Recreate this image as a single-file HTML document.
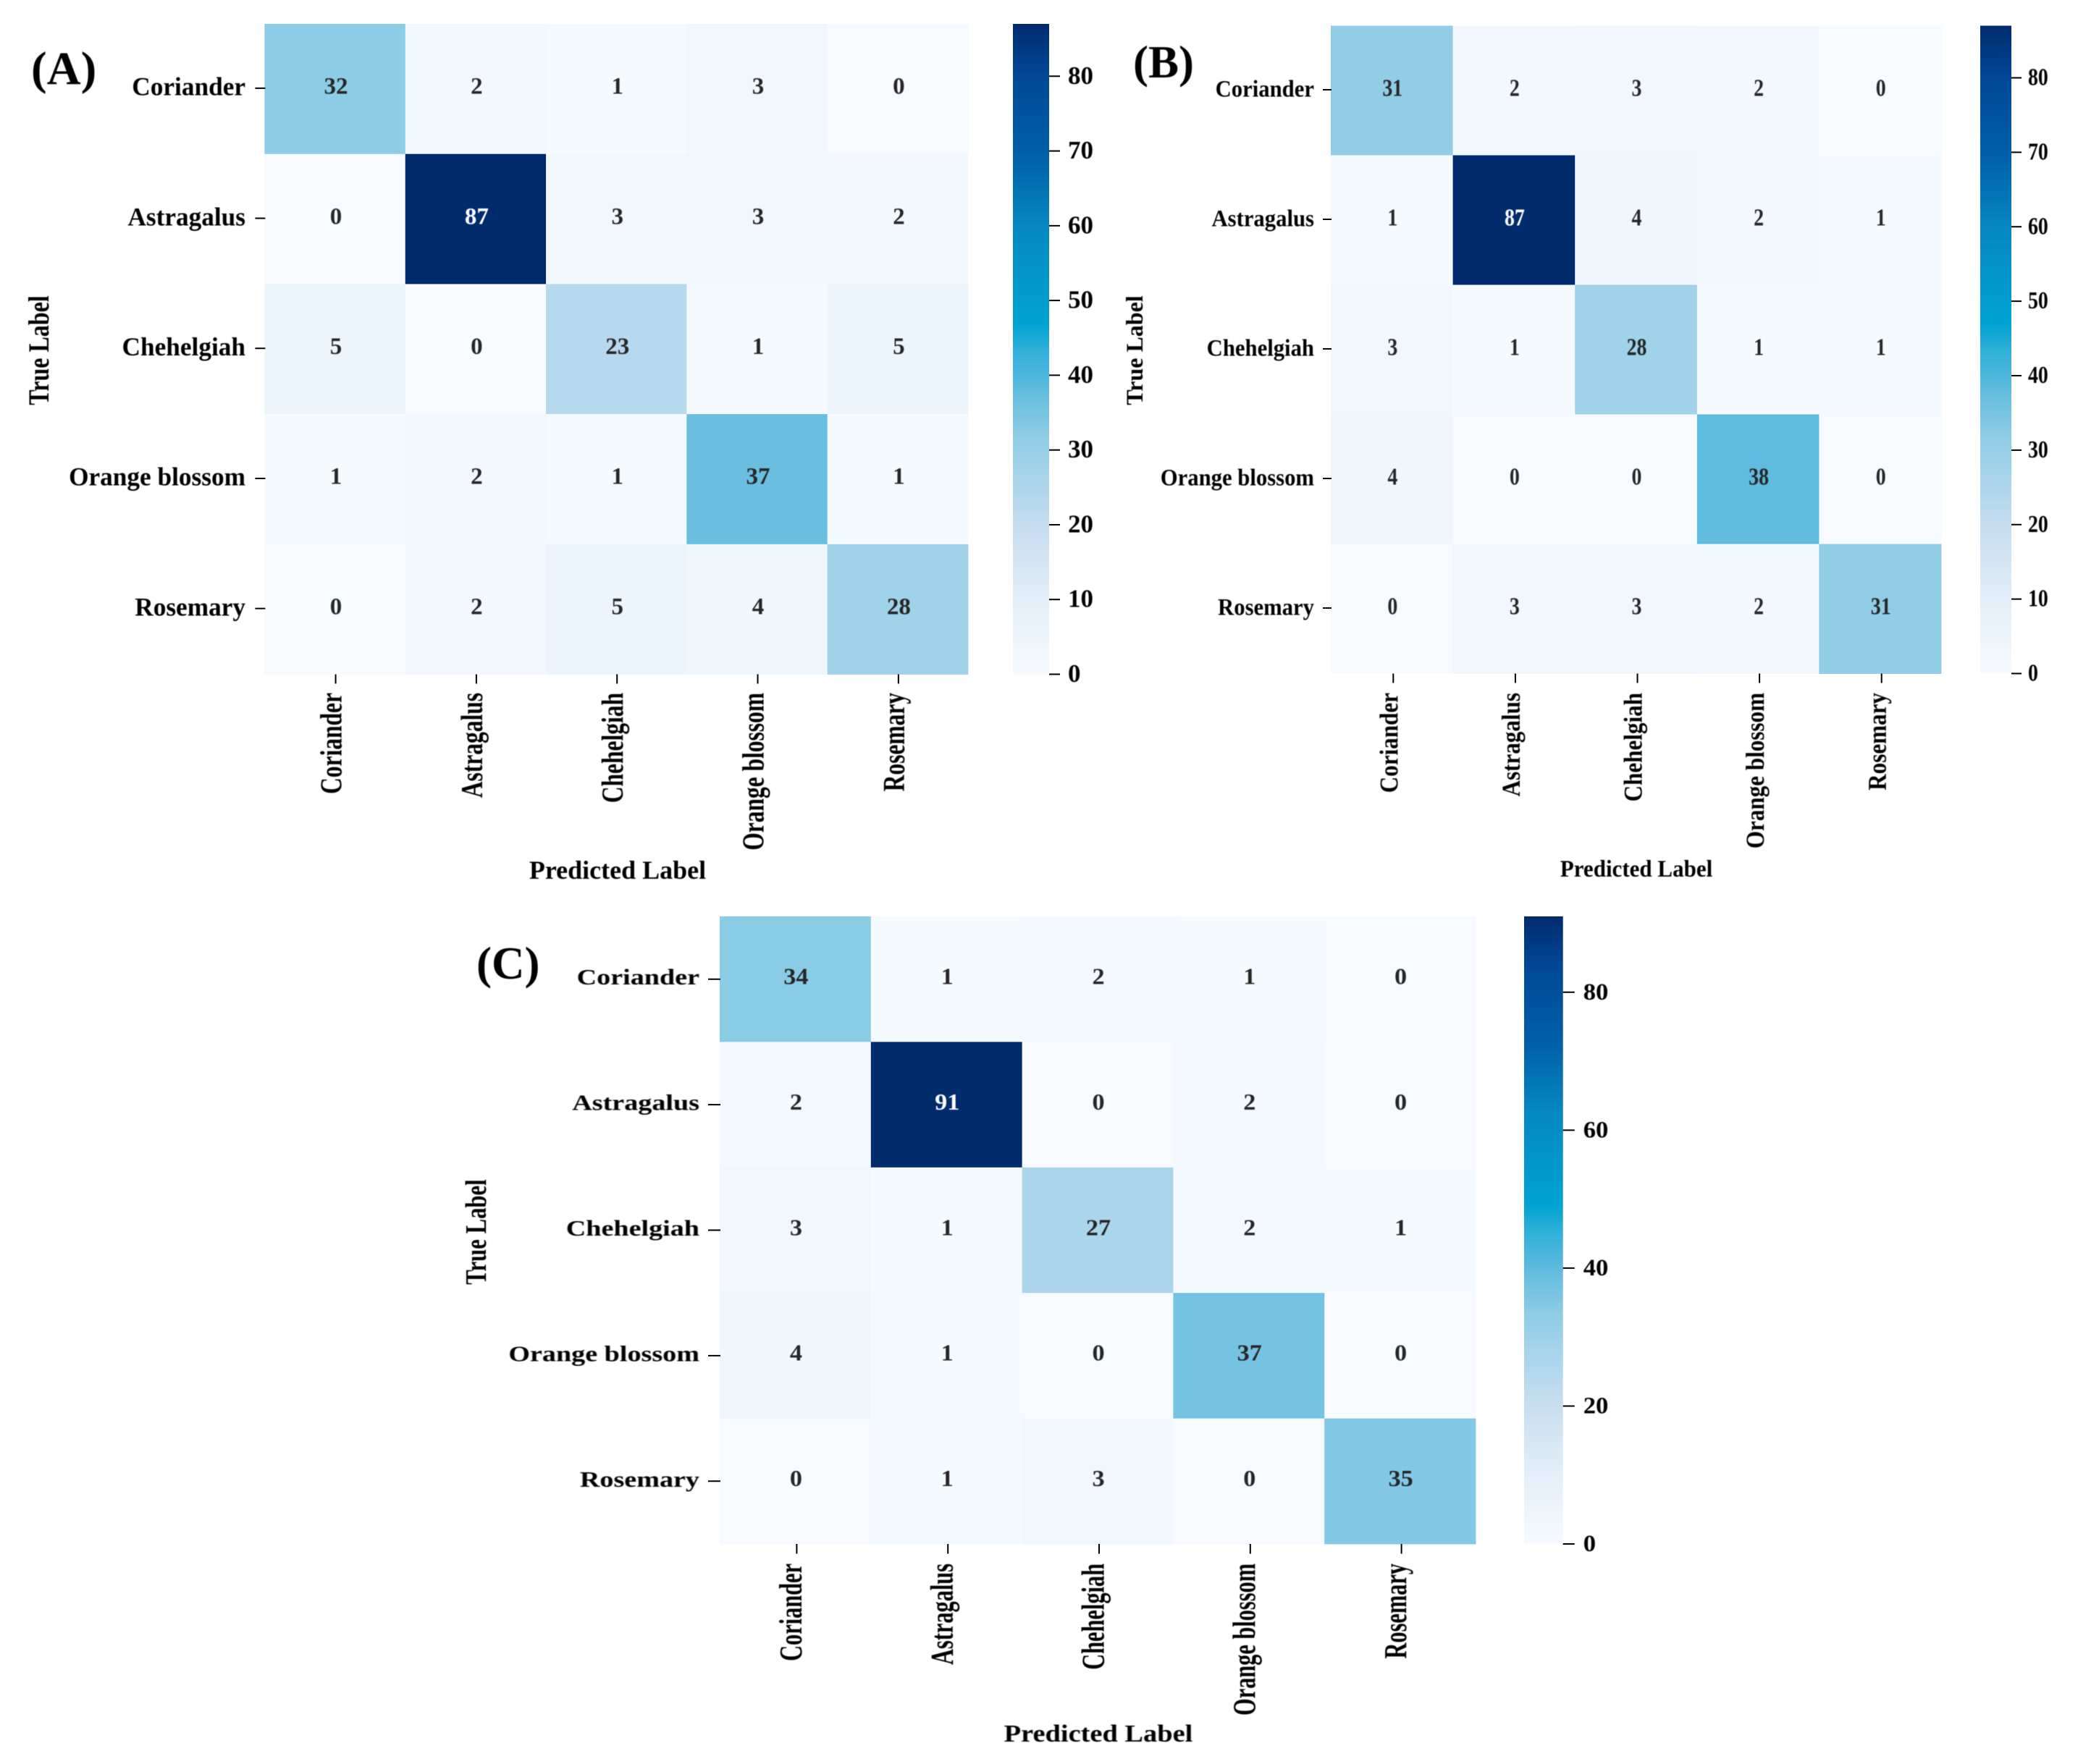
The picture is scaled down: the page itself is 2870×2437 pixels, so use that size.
<!DOCTYPE html>
<html lang="en">
<head>
<meta charset="utf-8">
<title>Confusion matrices A, B and C</title>
<style>
html,body{margin:0;padding:0;background:#fff;}
svg{display:block;}
text{font-family:"Liberation Serif",serif;font-weight:bold;fill:#000;filter:blur(0.6px);}
</style>
</head>
<body>
<svg id="figure" xmlns="http://www.w3.org/2000/svg" width="2870" height="2437" viewBox="0 0 2870 2437">
  <rect x="0" y="0" width="2870" height="2437" fill="#ffffff"/>
  <defs id="gradients"></defs>
  <g id="panel-a">
    <text x="43" y="116" font-size="65">(A)</text>
    <text transform="translate(67 484) rotate(-90) scale(0.8 1)" font-size="40" text-anchor="middle">True Label</text>
    <text x="853" y="1214" font-size="36" text-anchor="middle">Predicted Label</text>
  </g>
  <g id="panel-b">
    <text x="1565" y="107" font-size="63">(B)</text>
    <text transform="translate(1578 484) rotate(-90) scale(0.97 1)" font-size="33" text-anchor="middle">True Label</text>
    <text transform="translate(2260 1211) scale(0.94 1)" font-size="33" text-anchor="middle">Predicted Label</text>
  </g>
  <g id="panel-c">
    <text x="658" y="1352" font-size="63">(C)</text>
    <text transform="translate(671 1702) rotate(-90) scale(0.75 1)" font-size="41" text-anchor="middle">True Label</text>
    <text transform="translate(1517 2406) scale(1.13 1)" font-size="34" text-anchor="middle">Predicted Label</text>
  </g>
</svg>
<script>
// ----- chart data -----
const categories = ["Coriander", "Astragalus", "Chehelgiah", "Orange blossom", "Rosemary"];

const matrixA = [
  [32, 2, 1, 3, 0],
  [0, 87, 3, 3, 2],
  [5, 0, 23, 1, 5],
  [1, 2, 1, 37, 1],
  [0, 2, 5, 4, 28]
];
const matrixB = [
  [31, 2, 3, 2, 0],
  [1, 87, 4, 2, 1],
  [3, 1, 28, 1, 1],
  [4, 0, 0, 38, 0],
  [0, 3, 3, 2, 31]
];
const matrixC = [
  [34, 1, 2, 1, 0],
  [2, 91, 0, 2, 0],
  [3, 1, 27, 2, 1],
  [4, 1, 0, 37, 0],
  [0, 1, 3, 0, 35]
];

const colorbarTicksA = [0, 10, 20, 30, 40, 50, 60, 70, 80];
const colorbarTicksB = [0, 10, 20, 30, 40, 50, 60, 70, 80];
const colorbarTicksC = [0, 20, 40, 60, 80];

// colormap: fraction of the scale maximum, then red, green, blue
const colormapStops = [
  [0, 247, 251, 255],
  [0.115, 226, 238, 248],
  [0.23, 197, 221, 240],
  [0.32, 161, 210, 233],
  [0.368, 141, 204, 229],
  [0.425, 106, 190, 224],
  [0.5, 45, 175, 217],
  [0.54, 0, 163, 209],
  [0.69, 5, 135, 192],
  [0.8, 0, 95, 168],
  [0.92, 0, 72, 150],
  [1, 0, 43, 109]
];

// ----- layout of each panel -----
const panelA = {
  id: "a", matrix: matrixA, ticks: colorbarTicksA,
  x0: 365.4, x1: 1337, y0: 33, y1: 931.5,
  cbX0: 1399, cbX1: 1449, cbTickLen: 15, cbLabelX: 1475, cbFont: 35, cbScale: 1, cbBase: 10.5,
  yFont: 36, yScale: 0.98, yRight: 339, yTickLen: 13, yBase: 8.7, yTickShift: -1,
  annFont: 33, annScale: 1, annBase: 7.7, annShift: 1.5,
  xFont: 42, xScale: 0.75, xTop: 957, xBase: 8, xTickShift: 1, xTickLen: 13
};
const panelB = {
  id: "b", matrix: matrixB, ticks: colorbarTicksB,
  x0: 1838, x1: 2681, y0: 35.5, y1: 930.5,
  cbX0: 2735, cbX1: 2778, cbTickLen: 14, cbLabelX: 2801, cbFont: 34, cbScale: 0.82, cbBase: 10,
  yFont: 33, yScale: 0.93, yRight: 1815, yTickLen: 11, yBase: 8.5, yTickShift: -1,
  annFont: 34, annScale: 0.82, annBase: 8.5, annShift: 1,
  xFont: 36, xScale: 0.865, xTop: 957, xBase: 6, xTickShift: 2, xTickLen: 13
};
const panelC = {
  id: "c", matrix: matrixC, ticks: colorbarTicksC,
  x0: 994, x1: 2038, y0: 1266, y1: 2133,
  cbX0: 2105, cbX1: 2158.7, cbTickLen: 16, cbLabelX: 2186.7, cbFont: 33, cbScale: 1.05, cbBase: 10,
  yFont: 31, yScale: 1.23, yRight: 966, yTickLen: 16, yBase: 7.5, yTickShift: 0,
  annFont: 32, annScale: 1.07, annBase: 7.8, annShift: 1,
  xFont: 44, xScale: 0.69, xTop: 2160, xBase: 6.5, xTickShift: 2, xTickLen: 13.5
};
const panels = [panelA, panelB, panelC];

// ----- drawing -----
const SVG_NS = "http://www.w3.org/2000/svg";

function make(tag, attrs, parent) {
  const el = document.createElementNS(SVG_NS, tag);
  for (const key in attrs) el.setAttribute(key, attrs[key]);
  parent.appendChild(el);
  return el;
}

function colorFor(t) {
  const v = Math.max(0, Math.min(1, t));
  for (let i = 1; i < colormapStops.length; i++) {
    const a = colormapStops[i - 1];
    const b = colormapStops[i];
    if (v <= b[0]) {
      const f = (v - a[0]) / (b[0] - a[0]);
      const c = [1, 2, 3].map(k => Math.round(a[k] + (b[k] - a[k]) * f));
      return "rgb(" + c.join(",") + ")";
    }
  }
  return "rgb(0,43,109)";
}

function slug(s) {
  return s.toLowerCase().replace(/\s+/g, "-");
}

function maxOf(matrix) {
  return Math.max.apply(null, matrix.map(row => Math.max.apply(null, row)));
}

const defs = document.getElementById("gradients");
panels.forEach(drawPanel);

function drawPanel(p) {
  const root = document.getElementById("panel-" + p.id);
  const rows = p.matrix.length;
  const cols = p.matrix[0].length;
  const vmax = maxOf(p.matrix);
  const xBand = i => p.x0 + (p.x1 - p.x0) * i / cols;
  const yBand = j => p.y0 + (p.y1 - p.y0) * j / rows;
  const xMid = i => xBand(i + 0.5);
  const yMid = j => yBand(j + 0.5);
  const cbY = v => p.y1 - (p.y1 - p.y0) * v / vmax;

  // heatmap cells and printed values
  for (let r = 0; r < rows; r++) {
    for (let c = 0; c < cols; c++) {
      const value = p.matrix[r][c];
      const cell = make("rect", {
        x: xBand(c), y: yBand(r),
        width: xBand(c + 1) - xBand(c) + 0.4,
        height: yBand(r + 1) - yBand(r) + 0.4,
        fill: colorFor(value / vmax)
      }, root);
      
      
    }
  }
  for (let r = 0; r < rows; r++) {
    for (let c = 0; c < cols; c++) {
      const value = p.matrix[r][c];
      const txt = make("text", {
        transform: "translate(" + (xMid(c) + p.annShift) + " " + (yMid(r) + p.annBase - 1) + ") scale(" + p.annScale + " 1)",
        "font-size": p.annFont,
        "text-anchor": "middle",
        style: "fill:" + (value / vmax > 0.6 ? "#ffffff" : "#262626")
      }, root);
      txt.textContent = String(value);
      
      
    }
  }

  // y axis ticks and labels
  categories.forEach((name, j) => {
    const tick = make("line", {
      x1: p.x0 - p.yTickLen, x2: p.x0 + 1,
      y1: yMid(j) + p.yTickShift, y2: yMid(j) + p.yTickShift,
      stroke: "#000", "stroke-width": 2
    }, root);
    
    
    const label = make("text", {
      transform: "translate(" + p.yRight + " " + (yMid(j) + p.yBase) + ") scale(" + p.yScale + " 1)",
      "font-size": p.yFont,
      "text-anchor": "end"
    }, root);
    label.textContent = name;
    
    
  });

  // x axis ticks and labels
  categories.forEach((name, i) => {
    const tx = xMid(i) + p.xTickShift;
    const tick = make("line", {
      x1: tx, x2: tx,
      y1: p.y1, y2: p.y1 + p.xTickLen,
      stroke: "#000", "stroke-width": 2
    }, root);
    
    
    const label = make("text", {
      transform: "translate(" + (tx + p.xBase) + " " + p.xTop + ") rotate(-90) scale(" + p.xScale + " 1)",
      "font-size": p.xFont,
      "text-anchor": "end"
    }, root);
    label.textContent = name;
    
    
  });

  // colorbar
  const gradient = make("linearGradient", {
    id: "cb-gradient-" + p.id, x1: 0, y1: 1, x2: 0, y2: 0
  }, defs);
  colormapStops.forEach(s => {
    make("stop", {
      offset: s[0],
      "stop-color": "rgb(" + s[1] + "," + s[2] + "," + s[3] + ")"
    }, gradient);
  });
  const bar = make("rect", {
    x: p.cbX0, y: p.y0,
    width: p.cbX1 - p.cbX0, height: p.y1 - p.y0,
    fill: "url(#cb-gradient-" + p.id + ")"
  }, root);
  
  

  p.ticks.forEach(v => {
    const y = cbY(v);
    const tick = make("line", {
      x1: p.cbX1, x2: p.cbX1 + p.cbTickLen,
      y1: y, y2: y,
      stroke: "#000", "stroke-width": 2
    }, root);
    
    
    const label = make("text", {
      transform: "translate(" + p.cbLabelX + " " + (y + p.cbBase) + ") scale(" + p.cbScale + " 1)",
      "font-size": p.cbFont
    }, root);
    label.textContent = String(v);
    
    
  });
}
</script>
</body>
</html>
